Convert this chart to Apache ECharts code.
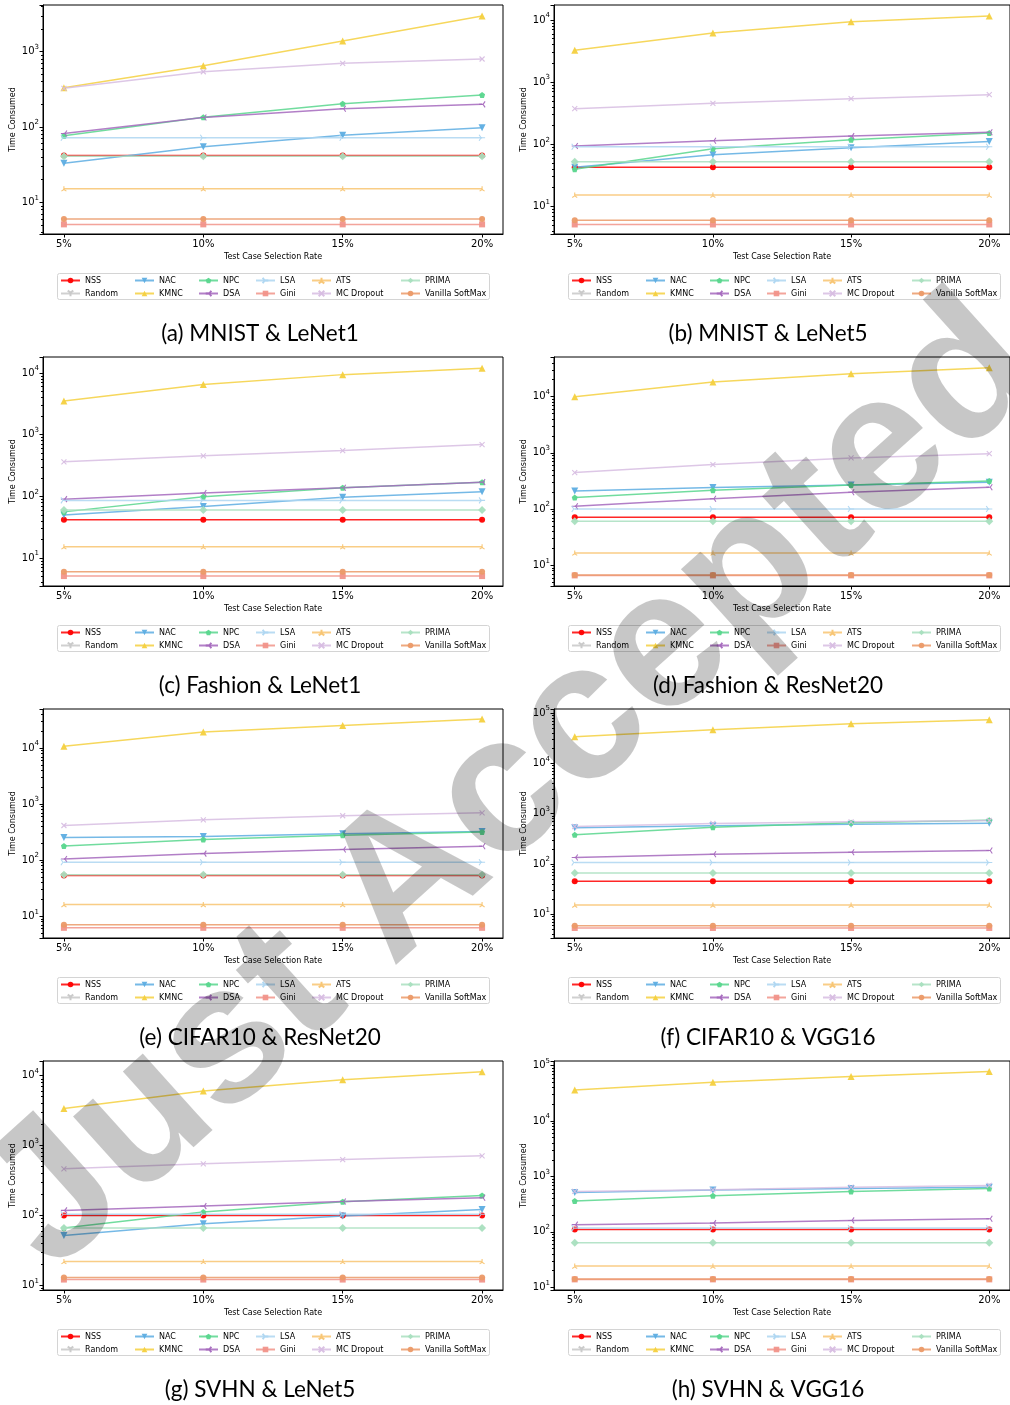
<!DOCTYPE html>
<html><head><meta charset="utf-8">
<script src="https://cdn.jsdelivr.net/npm/echarts@6/dist/echarts.min.js"></script>
<style>html,body{margin:0;padding:0;background:#fff}#c{width:1010px;height:1405px}</style>
</head><body><div id="c"></div>
<script>
// ---------- DATA ----------
const rates = [5, 10, 15, 20];
const rateLabels = ['5%', '10%', '15%', '20%'];
const captions = ['(a) MNIST & LeNet1', '(b) MNIST & LeNet5', '(c) Fashion & LeNet1', '(d) Fashion & ResNet20',
                  '(e) CIFAR10 & ResNet20', '(f) CIFAR10 & VGG16', '(g) SVHN & LeNet5', '(h) SVHN & VGG16'];
const methods = ['NSS', 'Random', 'NAC', 'KMNC', 'NPC', 'DSA', 'LSA', 'Gini', 'ATS', 'MC Dropout', 'PRIMA', 'Vanilla SoftMax'];
// one row per panel (a..h), values at 5%,10%,15%,20%
const NSS = [[42,42,42,42],[42.5,42.5,42.5,42.5],[41.8,41.8,41.8,41.8],[71.5,71.5,71.5,71.5],
             [53,53,53,53],[45.4,45.4,45.4,45.4],[100,100,100,100],[111,111,111,111]];
const RANDOM = [[null,null,null,null],[null,null,null,null],[null,null,null,null],[null,null,null,null],
                [null,null,null,null],[null,null,null,null],[null,null,null,null],[null,null,null,null]];
const NAC = [[33,54.7,77.6,98],[42.5,67.8,88,111],[50,68.7,97,119],[210,241,269,300],
             [253,264,295,325],[522,573,618,647],[51.8,76,98,122],[515,567,608,642]];
const KMNC = [[333,652,1387,2980],[3250,6180,9390,11600],[3520,6480,9400,11900],[10000,18240,25600,32800],
              [10850,19360,25500,33100],[33800,46600,61300,73600],[3380,6040,8770,11400],[36400,50100,63400,77900]];
const NPC = [[76.7,134.5,204,266],[39.4,84.7,118,151],[56,98.5,138,170],[160,216,269,316],
             [180,233,279,320],[379,538,658,743],[66,112,157,193],[360,449,537,608]];
const DSA = [[82,134,175,200],[93.5,114,135,156],[90,113,138,170],[112,153,199,244],
             [105,131,155,177],[134,156,171,185],[118,136,158,179],[135,144,161,173]];
const LSA = [[72,72,72,72],[91,91,91,91],[86,86,86,86],[100,100,100,100],
             [91.6,91.6,91.6,91.6],[107,107,107,107],[104,104,104,104],[117,117,117,117]];
const GINI = [[5.1,5.1,5.1,5.1],[5.1,5.1,5.1,5.1],[5.1,5.1,5.1,5.1],[6.6,6.6,6.6,6.6],
              [6.2,6.2,6.2,6.2],[5.35,5.35,5.35,5.35],[12.1,12.1,12.1,12.1],[13.9,13.9,13.9,13.9]];
const ATS = [[15.2,15.2,15.2,15.2],[15.2,15.2,15.2,15.2],[15.3,15.3,15.3,15.3],[16.6,16.6,16.6,16.6],
             [16.2,16.2,16.2,16.2],[15.3,15.3,15.3,15.3],[22,22,22,22],[24.2,24.2,24.2,24.2]];
const MCD = [[327,542,701,800],[373,456,541,627],[363,454,553,692],[445,618,811,968],
             [416,526,621,702],[555,637,687,731],[464,547,631,712],[537,575,642,688]];
const PRIMA = [[41,41,41,41],[52,52,52,52],[60,60,60,60],[60.7,60.7,60.7,60.7],
               [55,55,55,55],[66.5,66.5,66.5,66.5],[66,66,66,66],[63.8,63.8,63.8,63.8]];
const VSM = [[6.0,6.0,6.0,6.0],[5.95,5.95,5.95,5.95],[6.0,6.0,6.0,6.0],[6.75,6.75,6.75,6.75],
             [7.0,7.0,7.0,7.0],[5.95,5.95,5.95,5.95],[13,13,13,13],[14.1,14.1,14.1,14.1]];
const yMin = [3.8, 3.58, 3.52, 4.28, 4.08, 3.38, 8.58, 8.95];
const yMax = [4170, 17470, 18150, 50700, 50000, 120000, 16200, 121000];

// ---------- STYLE ----------
const values = [NSS, RANDOM, NAC, KMNC, NPC, DSA, LSA, GINI, ATS, MCD, PRIMA, VSM];
const colors = ['#ff0000', '#c8c8c8', '#5dade2', '#f4d03f', '#58d68d', '#a569bd', '#aed6f1', '#f1948a', '#f8c471', '#d7bde2', '#a9dfbf', '#eb9a68'];
const P = {
  triDown: 'path://M0,0 L0,10 M0,0 L-8.66,-5 M0,0 L8.66,-5',
  triLeft: 'path://M0,0 L-10,0 M0,0 L5,-8.66 M0,0 L5,8.66',
  triRight: 'path://M0,0 L10,0 M0,0 L-5,-8.66 M0,0 L-5,8.66',
  triUp: 'path://M0,0 L0,-10 M0,0 L-8.66,5 M0,0 L8.66,5',
  cross: 'path://M-10,-10 L10,10 M-10,10 L10,-10',
  pent: 'path://M0,-10 L9.51,-3.09 L5.88,8.09 L-5.88,8.09 L-9.51,-3.09 Z'
};
const symbols = [
  ['circle', 6, 0, false], [P.triDown, 6, 0, true], ['triangle', 7, 180, false], ['triangle', 7, 0, false],
  [P.pent, 6, 0, false], [P.triLeft, 6, 0, true], [P.triRight, 6, 0, true], ['rect', 6, 0, false],
  [P.triUp, 5, 0, true], [P.cross, 5, 0, true], ['diamond', 8, 0, false], ['circle', 6, 0, false]
];
const FONT = 'DejaVu Sans';

const grids = [], xAxes = [], yAxes = [], series = [], legends = [], titles = [], graphics = [];
const legendCols = [60, 134, 198, 255, 311, 400];

for (let p = 0; p < 8; p++) {
  const r = Math.floor(p / 2), c = p % 2;
  const gl = 43 + 511 * c, gt = 5 + 352 * r;
  grids.push({left: gl, top: gt, width: 460, height: 229, show: true, borderColor: '#000', borderWidth: 1, backgroundColor: 'transparent'});
  xAxes.push({
    type: 'value', gridIndex: p, min: 4.25, max: 20.75,
    name: 'Test Case Selection Rate', nameLocation: 'middle', nameGap: 19,
    nameTextStyle: {fontFamily: FONT, fontSize: 8, color: '#000'},
    axisLine: {show: true, lineStyle: {color: '#000', width: 1}},
    axisTick: {show: true, length: 3.5, lineStyle: {color: '#000'}, customValues: rates},
    axisLabel: {fontFamily: FONT, fontSize: 10, color: '#000', margin: 5, customValues: rates,
                formatter: v => rateLabels[rates.indexOf(v)] || ''},
    splitLine: {show: false}
  });
  yAxes.push({
    type: 'log', logBase: 10, gridIndex: p, min: yMin[p], max: yMax[p],
    name: 'Time Consumed', nameLocation: 'middle', nameGap: 26, nameRotate: 90,
    nameTextStyle: {fontFamily: FONT, fontSize: 8, color: '#000'},
    axisLine: {show: true, lineStyle: {color: '#000', width: 1}},
    axisTick: {show: true, length: 3.5, lineStyle: {color: '#000'}},
    minorTick: {show: true, splitNumber: 9, length: 2, lineStyle: {color: '#000'}},
    axisLabel: {fontFamily: FONT, fontSize: 10, color: '#000', margin: 4,
      formatter: v => { const e = Math.log10(v), k = Math.round(e); return Math.abs(e - k) < 1e-6 ? '{a|10}{b|' + k + '}' : ''; },
      rich: {a: {fontFamily: FONT, fontSize: 10, color: '#000', lineHeight: 12, verticalAlign: 'middle'},
             b: {fontFamily: FONT, fontSize: 7, color: '#000', lineHeight: 8, verticalAlign: 'middle', padding: [0, 0, 9, 0]}}},
    splitLine: {show: false}
  });
  methods.forEach((m, i) => {
    const [sym, size, rot, stroke] = symbols[i];
    series.push({
      type: 'line', name: m, xAxisIndex: p, yAxisIndex: p,
      data: rates.map((x, j) => [x, values[i][p][j]]),
      symbol: sym, symbolSize: size, symbolRotate: rot, showSymbol: true,
      color: colors[i],
      lineStyle: {color: colors[i], width: 1.5, opacity: 0.85},
      itemStyle: {color: colors[i], borderColor: colors[i], borderWidth: stroke ? 1.1 : 0, opacity: 0.95},
      silent: true, animation: false, z: 2
    });
  });
  for (let k = 0; k < 6; k++) {
    legends.push({
      left: legendCols[k] + 511 * c, top: 276.5 + 352 * r, orient: 'vertical', padding: 0,
      itemWidth: 19, itemHeight: 7, itemGap: 5, selectedMode: false,
      data: [methods[2 * k], methods[2 * k + 1]],
      textStyle: {fontFamily: FONT, fontSize: 8, color: '#000', lineHeight: 7}
    });
  }
  graphics.push({type: 'rect', silent: true, z: 1,
    shape: {x: 57.5 + 511 * c, y: 273.5 + 352 * r, width: 432, height: 26, r: 2},
    style: {fill: '#fff', stroke: '#d4d4d4', lineWidth: 1}});
  titles.push({text: captions[p], left: 255 + 508 * c, top: 329 + 352 * r, textAlign: 'center', textVerticalAlign: 'middle',
    textStyle: {fontFamily: 'Lato', fontSize: 22.5, fontWeight: 'normal', color: '#000'}});
}
graphics.push({type: 'text', silent: true, z: 100, x: 514, y: 786, rotation: 42 * Math.PI / 180,
  style: {text: 'Just Accepted', fill: 'rgba(0,0,0,0.22)',
          font: 'bold 196px "Liberation Sans"', align: 'center', verticalAlign: 'middle'}});

const chart = echarts.init(document.getElementById('c'), null, {renderer: 'canvas'});
chart.setOption({
  animation: false, backgroundColor: '#fff',
  title: titles, grid: grids, xAxis: xAxes, yAxis: yAxes, legend: legends, series: series,
  graphic: {elements: graphics}
});
</script></body></html>
